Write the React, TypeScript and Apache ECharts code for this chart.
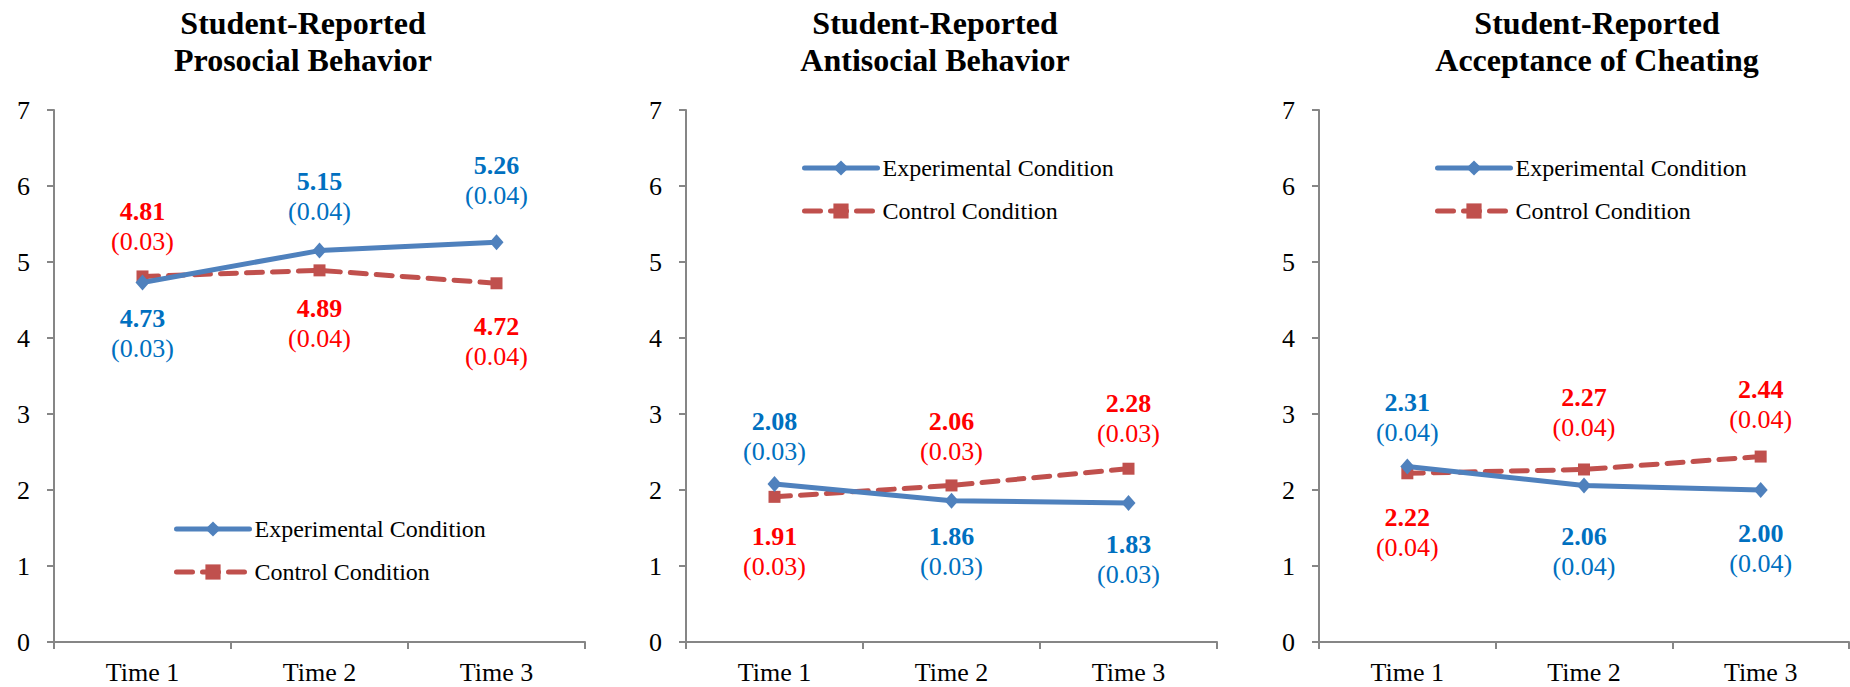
import React, { useEffect, useRef } from "react";
import * as echarts from "echarts";

const categories = ["Time 1", "Time 2", "Time 3"];
const yTicks = [0, 1, 2, 3, 4, 5, 6, 7];
const seriesNames = ["Experimental Condition", "Control Condition"];

const panelTitles = [
  "Student-Reported\nProsocial Behavior",
  "Student-Reported\nAntisocial Behavior",
  "Student-Reported\nAcceptance of Cheating",
];

// Means
const prosocialExp = [4.73, 5.15, 5.26];
const prosocialCtrl = [4.81, 4.89, 4.72];
const antisocialExp = [2.08, 1.86, 1.83];
const antisocialCtrl = [1.91, 2.06, 2.28];
const cheatingExp = [2.31, 2.06, 2.0];
const cheatingCtrl = [2.22, 2.27, 2.44];

// Standard errors
const prosocialExpSE = [0.03, 0.04, 0.04];
const prosocialCtrlSE = [0.03, 0.04, 0.04];
const antisocialExpSE = [0.03, 0.03, 0.03];
const antisocialCtrlSE = [0.03, 0.03, 0.03];
const cheatingExpSE = [0.04, 0.04, 0.04];
const cheatingCtrlSE = [0.04, 0.04, 0.04];

// Layout (not data): vertical offset of label's first line center from point, px
const labelOffsets = [
  [[36, -69, -77], [-65, 38, 43]],
  [[-62, 36, 42], [40, -64, -65]],
  [[-64, 51, 43], [44, -72, -67]],
];

const FONT = "'Liberation Serif', 'Times New Roman', serif";
const BLUE_LINE = "#4F81BD";
const RED_LINE = "#C0504D";
const BLUE_TEXT = "#0070C0";
const RED_TEXT = "#FF0000";
const AXIS = "#868686";

const grids = [
  { left: 54, width: 531 },
  { left: 686, width: 531 },
  { left: 1319, width: 530 },
];
const titleCenters = [303, 935, 1597];
const legendPos = [
  { left: 169, top: 512 },
  { left: 797, top: 151 },
  { left: 1430, top: 151 },
];

const panels = [
  { exp: prosocialExp, ctrl: prosocialCtrl, expSE: prosocialExpSE, ctrlSE: prosocialCtrlSE },
  { exp: antisocialExp, ctrl: antisocialCtrl, expSE: antisocialExpSE, ctrlSE: antisocialCtrlSE },
  { exp: cheatingExp, ctrl: cheatingCtrl, expSE: cheatingExpSE, ctrlSE: cheatingCtrlSE },
];

function buildData(vals: number[], ses: number[], offs: number[]) {
  return vals.map((v, i) => ({
    value: v,
    label: {
      formatter: `{v|${v.toFixed(2)}}\n{se|(${ses[i].toFixed(2)})}`,
      offset: [0, offs[i] + 15],
    },
  }));
}

export default function App() {
  const ref = useRef<HTMLDivElement>(null);
  useEffect(() => {
    if (!ref.current) return;
    const chart = echarts.init(ref.current, null, { renderer: "svg" });

    const series: any[] = [];
    panels.forEach((p, k) => {
      const mk = (name: string, vals: number[], ses: number[], offs: number[], isExp: boolean) => ({
        name,
        type: "line",
        xAxisIndex: k,
        yAxisIndex: k,
        data: buildData(vals, ses, offs),
        symbol: isExp ? "diamond" : "rect",
        symbolSize: isExp ? [14, 16] : [12, 12],
        lineStyle: isExp
          ? { color: BLUE_LINE, width: 5, cap: "round" }
          : { color: RED_LINE, width: 5, type: [16, 10], cap: "round" },
        itemStyle: { color: isExp ? BLUE_LINE : RED_LINE },
        label: {
          show: true,
          position: "inside",
          fontFamily: FONT,
          rich: {
            v: {
              fontFamily: FONT,
              fontSize: 26,
              fontWeight: "bold",
              color: isExp ? BLUE_TEXT : RED_TEXT,
              lineHeight: 30,
              align: "center",
            },
            se: {
              fontFamily: FONT,
              fontSize: 26,
              color: isExp ? BLUE_TEXT : RED_TEXT,
              lineHeight: 30,
              align: "center",
            },
          },
        },
        emphasis: { disabled: true },
        z: isExp ? 3 : 2,
      });
      series.push(mk(seriesNames[1], p.ctrl, p.ctrlSE, labelOffsets[k][1], false));
      series.push(mk(seriesNames[0], p.exp, p.expSE, labelOffsets[k][0], true));
    });

    const option: any = {
      animation: false,
      grid: grids.map((g) => ({ left: g.left, width: g.width, top: 110, height: 532 })),
      xAxis: grids.map((_, k) => ({
        type: "category",
        gridIndex: k,
        data: categories,
        boundaryGap: true,
        axisLine: { show: true, lineStyle: { color: AXIS, width: 2 } },
        axisTick: { show: true, length: 7, lineStyle: { color: AXIS, width: 2 } },
        axisLabel: { fontFamily: FONT, fontSize: 26, color: "#000", margin: 17 },
        splitLine: { show: false },
      })),
      yAxis: grids.map((_, k) => ({
        type: "value",
        gridIndex: k,
        min: yTicks[0],
        max: yTicks[yTicks.length - 1],
        interval: 1,
        axisLine: { show: true, lineStyle: { color: AXIS, width: 2 } },
        axisTick: { show: true, length: 7, lineStyle: { color: AXIS, width: 2 } },
        axisLabel: { fontFamily: FONT, fontSize: 26, color: "#000", margin: 24 },
        splitLine: { show: false },
      })),
      legend: legendPos.map((lp) => ({
        orient: "vertical",
        left: lp.left,
        top: lp.top,
        data: [seriesNames[0], seriesNames[1]],
        itemWidth: 73,
        itemHeight: 19,
        itemGap: 19,
        selectedMode: false,
        lineStyle: { width: 5, cap: "round" },
        textStyle: { fontFamily: FONT, fontSize: 24, color: "#000", lineHeight: 24 },
      })),
      graphic: panelTitles.map((t, k) => ({
        type: "text",
        x: titleCenters[k],
        y: 4,
        style: {
          text: t,
          textAlign: "center",
          textVerticalAlign: "top",
          fontFamily: FONT,
          fontSize: 32,
          fontWeight: "bold",
          lineHeight: 37,
          fill: "#000",
        },
      })),
      series,
    };
    chart.setOption(option);
    return () => chart.dispose();
  }, []);

  return (
    <div
      ref={ref}
      style={{ position: "fixed", left: 0, top: 0, width: 1850, height: 687, background: "#fff" }}
    />
  );
}
